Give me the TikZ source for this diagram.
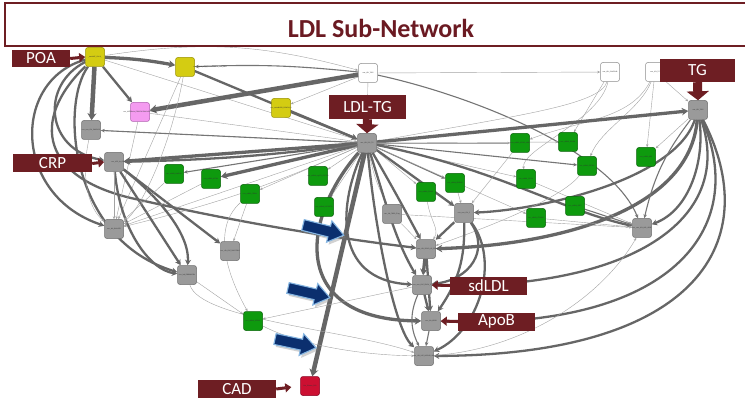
\documentclass[tikz,border=0pt]{standalone}
\usepackage{fontspec}
\setmainfont{Carlito}
\usetikzlibrary{arrows.meta,shadows}
\pgfdeclarelayer{bottom}
\pgfdeclarelayer{background}
\pgfsetlayers{bottom,background,main}
\definecolor{maroon}{HTML}{6E1E23}
\definecolor{titlec}{HTML}{6B1A22}
\definecolor{ngray}{HTML}{9A9A9A}
\definecolor{ngrayd}{HTML}{6E6E6E}
\definecolor{ngreen}{HTML}{0E9A0E}
\definecolor{ngreend}{HTML}{0A640A}
\definecolor{nyel}{HTML}{D4CC12}
\definecolor{nyeld}{HTML}{9A9200}
\definecolor{npink}{HTML}{F49BF0}
\definecolor{npinkd}{HTML}{B060B0}
\definecolor{nred}{HTML}{CC1032}
\definecolor{nredd}{HTML}{880020}
\definecolor{edgec}{HTML}{666666}
\definecolor{navy}{HTML}{0B2F6E}
\definecolor{lblue}{HTML}{86B6E2}
\tikzset{
  nd/.style={rectangle, rounded corners=2.5pt, minimum size=19pt, inner sep=0pt, line width=0.5pt},
  gy/.style={nd, fill=ngray, draw=ngrayd},
  gn/.style={nd, fill=ngreen, draw=ngreend},
  yl/.style={nd, fill=nyel, draw=nyeld},
  pinknode/.style={nd, fill=npink, draw=npinkd},
  wh/.style={nd, fill=white, draw=black!45},
  rdn/.style={nd, fill=nred, draw=nredd},
  tl/.style={font=\fontsize{1.8}{2}\selectfont, text=black!80, inner sep=0pt},
  E1/.style={draw=edgec!60, line width=0.4pt, -{Stealth[length=3pt,width=2.4pt]}},
  E2/.style={draw=edgec!90, line width=1.1pt, -{Stealth[length=4pt,width=3.5pt]}},
  E3/.style={draw=edgec, line width=2.3pt, -{Stealth[length=5.5pt,width=6pt]}},
  E4/.style={draw=edgec, line width=3.3pt, -{Stealth[length=6.5pt,width=7.5pt]}},
  E5/.style={draw=edgec, line width=4.5pt, -{Stealth[length=7pt,width=9pt]}},
  lbox/.style={fill=maroon, text=white, font=\fontsize{17}{17}\selectfont, inner sep=0pt},
  la/.style={draw=maroon, line width=3pt, -{Triangle[length=6pt,width=9pt]}},
  lav/.style={draw=maroon, line width=9pt, -{Triangle[length=9pt,width=22pt]}},
  barrow/.style={fill=navy, draw=lblue, line width=1.1pt, line join=miter,
     drop shadow={opacity=0.35, shadow xshift=2pt, shadow yshift=-2.5pt}}
}
\begin{document}
\begin{tikzpicture}[x=1pt,y=-1pt]
\useasboundingbox (0,0) rectangle (745,401);
\begin{pgfonlayer}{bottom}
\fill[white] (0,0) rectangle (745,401);
\end{pgfonlayer}

% ---------- nodes ----------
\node[yl] (p1) at (95,57) {}; \node[tl] at (95,57) {\_metabPC\_O16:0\_};
\node[yl] (y2) at (185,67) {}; \node[tl] at (210,67) {corr\_metab\_PC\_Y\_PALMITOLEOYL\_GPC\_16:1};
\node[pinknode] (pk) at (140,112) {}; \node[tl] at (140,112) {corr\_METABoLo\_PYROGLUTAMYLGLUTAMINE};
\node[yl] (y3) at (281,108) {}; \node[tl] at (281,108) {corr\_metabLIPID\_PLPAF16\_0};
\node[wh] (w1) at (368,73) {}; \node[tl] at (368,73) {nmr\_LDL\_TRIG};
\node[wh] (w2) at (610,72) {}; \node[tl] at (610,72) {nmr\_LDL\_SIMCOMB};
\node[wh] (w3) at (655,72) {}; \node[tl] at (655,72) {nmr\_LDL\_TG};
\node[gy] (tg) at (698,110) {}; \node[tl] at (698,110) {nmr\_LDL\_TRIG};
\node[gy] (ldl) at (367,143) {}; \node[tl] at (367,143) {nmr\_LDL\_LDL\_TG};
\node[gy] (ga) at (91,130) {}; \node[tl] at (91,130) {corr\_nmr\_LDL\_PNLIDLC2};
\node[gy] (crp) at (114,162) {}; \node[tl] at (118,162) {corr\_LOG\_hs\_CRP};
\node[gy] (gb) at (114,229) {}; \node[tl] at (114,229) {corr\_lab\_PALMITO};
\node[gy] (gc) at (230,251) {}; \node[tl] at (230,251) {corr\_clin\_LOG\_DALCITRAS};
\node[gy] (gd) at (187,275) {}; \node[tl] at (187,275) {corr\_lab\_FIBRINOGEN};
\node[gn] (gr1) at (174,174) {}; \node[tl] at (174,174) {corr\_mRNA\_NAGK10};
\node[gn] (gr2) at (211,179) {}; \node[tl] at (211,179) {corr\_mRNA\_ACTN4};
\node[gn] (gr3) at (250,194) {}; \node[tl] at (250,194) {corr\_mRNA\_TRIM4};
\node[gn] (gr4) at (318,176) {}; \node[tl] at (318,176) {corr\_mRNA\_mgST1\_CNF102};
\node[gn] (gr5) at (324,207) {}; \node[tl] at (324,207) {corr\_mRNA\_LOC28170};
\node[gy] (ge) at (392,214) {}; \node[tl] at (392,214) {corr\_lab\_TRIFA\_Triag};
\node[gn] (gr6) at (426,192) {}; \node[tl] at (426,192) {corr\_mRNA\_C1GAP};
\node[gn] (gr7) at (455,183) {}; \node[tl] at (455,183) {corr\_mRNA\_KDSLAO};
\node[gy] (gf) at (464,213) {}; \node[tl] at (464,213) {corr\_nmr\_LDL\_C};
\node[gy] (gg) at (426,249) {}; \node[tl] at (426,249) {corr\_nmr\_LDL\_DIOLD\_LO\_STOME};
\node[gn] (gr8) at (520,143) {}; \node[tl] at (520,143) {corr\_mRNA\_LOCNS\_ANB};
\node[gn] (gr9) at (568,142) {}; \node[tl] at (568,142) {corr\_mRNA\_FAM3H};
\node[gn] (gr10) at (646,157) {}; \node[tl] at (646,157) {corr\_mRNA\_NBS};
\node[gn] (gr11) at (587,166) {}; \node[tl] at (587,166) {corr\_mRNA\_SEC24A};
\node[gn] (gr12) at (526,179) {}; \node[tl] at (526,179) {corr\_mRNA\_CLIC1A};
\node[gn] (gr13) at (575,206) {}; \node[tl] at (575,206) {corr\_mRNA\_SAP7};
\node[gn] (gr14) at (536,218) {}; \node[tl] at (536,218) {corr\_mRNA\_C7MBA5};
\node[gy] (gh) at (642,228) {}; \node[tl] at (642,228) {corr\_nmr\_LDL\_HDL\_APOE};
\node[gy] (sd) at (422,285) {}; \node[tl] at (422,285) {corr\_nmr\_LOG\_SDLDL\_C};
\node[gy] (apob) at (431,321) {}; \node[tl] at (431,321) {corr\_lab\_APOB};
\node[gy] (gi) at (424,356) {}; \node[tl] at (424,356) {corr\_LDL\_LOG\_LIPPLAD\_HDL};
\node[gn] (gr15) at (253,321) {}; \node[tl] at (253,321) {corr\_mRNA\_NCOA2};
\node[rdn] (cad) at (310,386) {}; \node[tl] at (310,386) {Has\_Disease\_CAD};

% ---------- edges ----------
\begin{pgfonlayer}{background}
% from POA
\draw[E4] (p1) to[bend left=4] (y2);
\draw[E5] (p1) -- (ga);
\draw[E3] (p1) -- (pk);
\draw[E1] (p1) to[bend left=12] (w1);
\draw[E1] (p1) -- (ldl);
\draw[E3] (p1) .. controls (12,80) and (12,195) .. (gb);
\draw[E3] (p1) .. controls (40,85) and (45,150) .. (crp);
\draw[E3] (p1) .. controls (60,105) and (70,240) .. (gd);
\draw[E3] (p1) .. controls (30,120) and (40,180) .. (140,200) .. controls (250,225) and (350,240) .. (gg);
% top
\draw[E5] (w1) -- (pk);
\draw[E3] (y2) -- (ldl);
\draw[E2] (w1) to[bend right=4] (y2);
\draw[E1] (y2) -- (gb);
\draw[E3] (y3) -- (ldl);
\draw[E1] (w1) -- (y3);
\draw[E1] (w1) -- (ldl);
\draw[E1] (w1) -- (w2);
\draw[E2] (w1) .. controls (470,95) and (610,150) .. (gh);
\draw[E1] (w2) .. controls (600,105) and (520,115) .. (ldl);
\draw[E1] (w2) -- (gr9);
\draw[E1] (w2) .. controls (600,120) and (520,150) .. (gr12);
\draw[E1] (w3) -- (gr10);
\draw[E1] (w3) -- (tg);
\draw[E1] (w3) .. controls (640,110) and (600,130) .. (gr11);
\draw[E1] (w3) .. controls (630,120) and (580,120) .. (gr8);
\draw[E1] (tg) -- (gr10);
\draw[E1] (pk) -- (ldl);
\draw[E1] (ga) -- (ldl);
\draw[E1] (pk) -- (gb);
% LDL-TG hub
\draw[E4] (ldl) -- (tg);
\draw[E4] (ldl) -- (crp);
\draw[E3] (ldl) to[bend left=3] (crp);
\draw[E2] (ldl) -- (ga);
\draw[E4] (ldl) -- (gr2);
\draw[E2] (ldl) -- (gr1);
\draw[E1] (ldl) -- (gr3);
\draw[E1] (ldl) -- (gr4);
\draw[E1] (ldl) -- (gr5);
\draw[E1] (ldl) to[bend right=8] (ge);
\draw[E1] (ldl) -- (gr6);
\draw[E2] (ldl) -- (gr7);
\draw[E1] (ldl) -- (gr8);
\draw[E1] (ldl) -- (gr9);
\draw[E1] (ldl) -- (gr12);
\draw[E1] (ldl) -- (gr14);
\draw[E1] (ldl) -- (gb);
\draw[E1] (ldl) to[bend left=5] (gb);
\draw[E3] (ldl) -- (gf);
\draw[E2] (ldl) -- (gr11);
\draw[E5] (ldl) -- (cad);
\draw[E3] (ldl) .. controls (385,200) and (395,240) .. (sd);
\draw[E4] (ldl) .. controls (300,220) and (290,320) .. (apob);
\draw[E3] (ldl) .. controls (375,230) and (395,330) .. (gi);
\draw[E3] (ldl) .. controls (400,200) and (410,220) .. (gg);
\draw[E3] (ldl) .. controls (340,200) and (330,280) .. (sd);
\draw[E3] (ldl) .. controls (500,170) and (560,210) .. (gh);
% CRP
\draw[E3] (crp) -- (gd);
\draw[E3] (crp) .. controls (120,230) and (150,270) .. (gd);
\draw[E3] (crp) .. controls (150,190) and (190,230) .. (gd);
\draw[E3] (crp) -- (gc);
\draw[E1] (crp) -- (gb);
\draw[E1] (ga) .. controls (80,180) and (90,210) .. (gb);
\draw[E1] (gr1) -- (gb);
\draw[E1] (gr2) -- (gb);
\draw[E1] (gr3) -- (gc);
\draw[E1] (gd) -- (gr15);
\draw[E1] (gr3) .. controls (210,230) and (230,280) .. (gr15);
\draw[E1] (sd) -- (gr15);
\draw[E1] (gr15) .. controls (300,345) and (360,355) .. (gi);
\draw[E1] (gd) .. controls (200,320) and (350,330) .. (gi);
\draw[E1] (y2) .. controls (170,150) and (140,210) .. (gb);
% right side
\draw[E3] (tg) .. controls (765,240) and (700,355) .. (gi);
\draw[E3] (tg) .. controls (750,230) and (670,330) .. (apob);
\draw[E3] (tg) .. controls (735,220) and (630,290) .. (sd);
\draw[E4] (tg) .. controls (690,210) and (560,245) .. (gg);
\draw[E3] (tg) .. controls (675,180) and (540,210) .. (gf);
\draw[E3] (tg) .. controls (705,160) and (690,210) .. (gh);
\draw[E2] (tg) to[bend right=12] (gh);
\draw[E2] (gr13) -- (gh);
\draw[E1] (gr14) -- (gh);
\draw[E1] (ge) -- (gh);
\draw[E1] (gr12) -- (gh);
\draw[E1] (gi) .. controls (520,350) and (600,300) .. (gh);
\draw[E1] (gr11) .. controls (560,200) and (480,230) .. (gg);
\draw[E1] (gr8) -- (gf);
\draw[E1] (gr7) -- (gf);
% lower cluster
\draw[E4] (gg) -- (sd);
\draw[E3] (gg) -- (apob);
\draw[E3] (sd) -- (apob);
\draw[E2] (apob) -- (gi);
\draw[E2] (sd) to[bend right=25] (gi);
\draw[E3] (gf) -- (gg);
\draw[E3] (gf) to[bend left=18] (apob);
\draw[E3] (gf) .. controls (500,260) and (480,330) .. (gi);
\draw[E3] (gf) .. controls (490,250) and (470,280) .. (sd);
\draw[E1] (ge) -- (gg);
\draw[E1] (gr6) .. controls (430,220) and (440,230) .. (gg);
\end{pgfonlayer}

% ---------- title ----------
\draw[maroon, line width=1.8pt] (760,3) -- (5,3) -- (5,46) -- (760,46);
\node[text=titlec, font=\fontsize{26}{28}\selectfont\bfseries] (title) at (381,28) {LDL Sub-Network};

% ---------- labels ----------
\node[lbox, minimum width=58pt, minimum height=17pt] (poal) at (41,58.5) {POA};
\node[lbox, minimum width=79pt, minimum height=18pt] (crpl) at (52.5,163.5) {CRP};
\node[lbox, minimum width=77pt, minimum height=24pt] (ldltgl) at (367.5,107) {LDL-TG};
\node[lbox, minimum width=75pt, minimum height=23pt] (tgl) at (697.5,70.5) {TG};
\node[lbox, minimum width=77pt, minimum height=18pt] (sdl) at (488.5,285.5) {sdLDL};
\node[lbox, minimum width=77pt, minimum height=18pt] (apobl) at (496.5,321.5) {ApoB};
\node[lbox, minimum width=78pt, minimum height=18pt] (cadl) at (237,389) {CAD};
\draw[la] (poal.east) -- (p1.west);
\draw[la] (crpl.east) -- (crp.west);
\draw[lav] (ldltgl.south) -- (ldl.north);
\draw[lav] (tgl.south) -- (tg.north);
\draw[la] (sdl.west) -- (sd.east);
\draw[la] (apobl.west) -- (apob.east);
\draw[la, shorten >=9pt] (cadl.east) -- (cad.west);

% ---------- blue arrows ----------
\begin{scope}[shift={(303,225)}, rotate=-14]
\filldraw[barrow] (0,-5.5) -- (27,-5.5) -- (27,-11) -- (42,0) -- (27,11) -- (27,5.5) -- (0,5.5) -- cycle;
\end{scope}
\begin{scope}[shift={(288,288)}, rotate=-13]
\filldraw[barrow] (0,-5.5) -- (28,-5.5) -- (28,-11) -- (43,0) -- (28,11) -- (28,5.5) -- (0,5.5) -- cycle;
\end{scope}
\begin{scope}[shift={(275,339)}, rotate=-12]
\filldraw[barrow] (0,-5.5) -- (27,-5.5) -- (27,-11) -- (42,0) -- (27,11) -- (27,5.5) -- (0,5.5) -- cycle;
\end{scope}
\end{tikzpicture}
\end{document}
